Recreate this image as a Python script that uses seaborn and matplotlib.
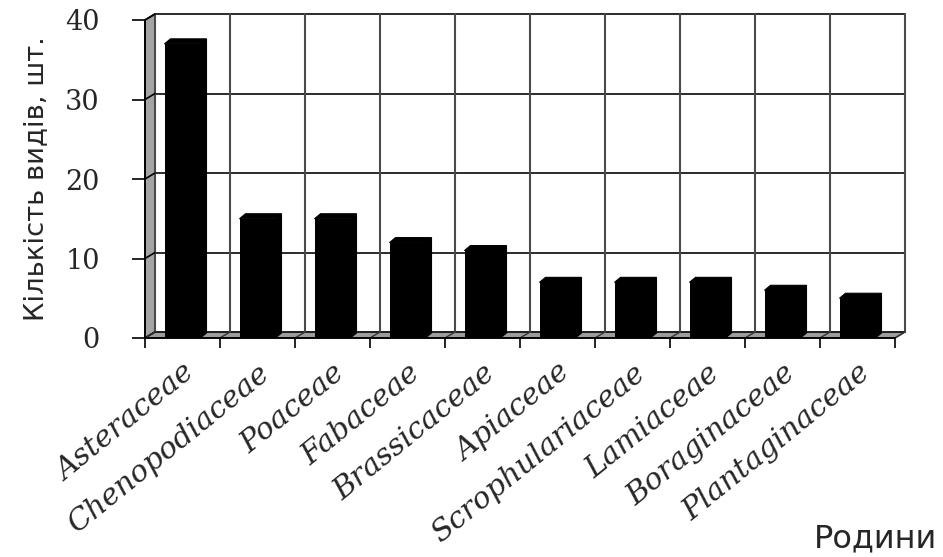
import numpy as np
import matplotlib
matplotlib.use("Agg")
import matplotlib.pyplot as plt
from matplotlib.patches import Polygon
import seaborn as sns

# Number of species in the ten largest plant families
families = ["Asteraceae", "Chenopodiaceae", "Poaceae", "Fabaceae", "Brassicaceae",
            "Apiaceae", "Scrophulariaceae", "Lamiaceae", "Boraginaceae", "Plantaginaceae"]
counts = [37, 15, 15, 12, 11, 7, 7, 7, 6, 5]
y_ticks = [0, 10, 20, 30, 40]

sns.set_style("white")
plt.rcParams["font.family"] = ["DejaVu Sans"]

W, H = 943, 557
fig = plt.figure(figsize=(W / 100, H / 100), dpi=100)
ax = fig.add_axes([145 / W, (H - 338) / H, 750 / W, 318 / H])

sns.barplot(x=families, y=counts, color="black", width=0.48, saturation=1,
            edgecolor="black", linewidth=0, ax=ax)
ax.set_xlim(-0.5, len(families) - 0.5)
ax.set_ylim(0, 40)


def px(dx, dy):
    """Convert a pixel offset into data units."""
    p0 = ax.transData.transform((0, 0))
    d = ax.transData.inverted().transform(p0 + np.array([dx, dy]))
    return d[0], d[1]


wall_dx, wall_dy = px(10, 6)     # depth of the back wall
bar_dx, bar_dy = px(6, 5)        # depth of each bar
x0, x1 = -0.5, len(families) - 0.5
top = 40

# left side wall
ax.add_patch(Polygon([(x0, 0), (x0, top), (x0 + wall_dx, top + wall_dy), (x0 + wall_dx, wall_dy)],
                     closed=True, facecolor="#a4a4a4", edgecolor="black", lw=1.2,
                     clip_on=False, zorder=0.6))
# floor
ax.add_patch(Polygon([(x0, 0), (x1, 0), (x1 + wall_dx, wall_dy), (x0 + wall_dx, wall_dy)],
                     closed=True, facecolor="#9c9c9c", edgecolor="#333333", lw=1.0,
                     clip_on=False, zorder=0.6))

# back-wall horizontal grid and wall diagonals
for v in y_ticks:
    ax.plot([x0 + wall_dx, x1 + wall_dx], [v + wall_dy, v + wall_dy], color="#1a1a1a",
            lw=1.3, clip_on=False, zorder=0.7)
    ax.plot([x0, x0 + wall_dx], [v, v + wall_dy], color="black", lw=1.2,
            clip_on=False, zorder=0.8)

# back-wall vertical grid and floor diagonals at category boundaries
for b in np.arange(len(families) + 1) - 0.5:
    ax.plot([b + wall_dx, b + wall_dx], [wall_dy, top + wall_dy], color="#4a4a4a",
            lw=1.5, clip_on=False, zorder=0.7)
    ax.plot([b, b + wall_dx], [0, wall_dy], color="#333333", lw=1.0,
            clip_on=False, zorder=0.8)

# give each bar a top and side face
for bar in ax.patches[:]:
    if not hasattr(bar, "get_width") or bar.get_height() <= 0:
        continue
    bx, bw, bh = bar.get_x(), bar.get_width(), bar.get_height()
    bar.set_zorder(2)
    ax.add_patch(Polygon([(bx, bh), (bx + bar_dx, bh + bar_dy), (bx + bw + bar_dx, bh + bar_dy),
                          (bx + bw + bar_dx, bar_dy), (bx + bw, 0), (bx + bw, bh)],
                         closed=True, facecolor="black", edgecolor="black", lw=0.8,
                         clip_on=False, zorder=2))

# axes lines
for s in ["top", "right"]:
    ax.spines[s].set_visible(False)
for s in ["left", "bottom"]:
    ax.spines[s].set_color("black")
    ax.spines[s].set_linewidth(1.3)
    ax.spines[s].set_zorder(3)

# y ticks
ax.set_yticks(y_ticks)
ax.set_yticklabels([str(v) for v in y_ticks], fontfamily="DejaVu Serif", fontsize=19.5)
ax.tick_params(axis="y", direction="out", length=9.5, width=1.2, color="black", pad=23, left=True)

# x: labels at bar centres, tick marks at category boundaries
ax.set_xticks(range(len(families)))
ax.set_xticklabels(families, fontfamily="DejaVu Serif", fontstyle="italic", fontsize=21.5,
                   rotation=39, ha="right", va="top", rotation_mode="anchor")
ax.tick_params(axis="x", which="major", length=0, pad=15)
ax.set_xticks(np.arange(len(families) + 1) - 0.5, minor=True)
ax.tick_params(axis="x", which="minor", direction="out", length=7.5, width=1.2,
               color="black", bottom=True)

ax.set_xlabel("")
ax.set_ylabel("Кількість видів, шт.", fontsize=19.7, fontfamily="DejaVu Sans")
ax.yaxis.set_label_coords(-0.128, 0.5)

fig.text(937 / W, (H - 547) / H, "Родини", fontsize=23, fontfamily="DejaVu Sans",
         ha="right", va="baseline")

fig.savefig("out.png", dpi=100)
